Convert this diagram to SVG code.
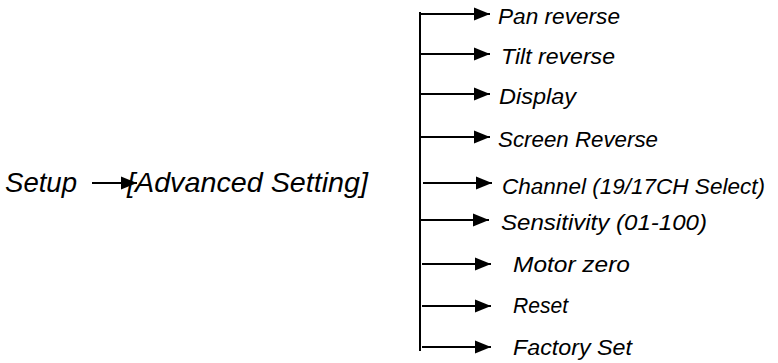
<svg xmlns="http://www.w3.org/2000/svg" width="778" height="363" viewBox="0 0 778 363">
<style>
.t{font-family:"Liberation Sans","Noto Sans",sans-serif;font-style:italic;fill:#000}
.big{font-size:28px}
.sm{font-size:22px}
.ln{stroke:#000;stroke-width:2;fill:none}
</style>
<defs>
<marker id="ah" markerUnits="userSpaceOnUse" markerWidth="17" markerHeight="14" refX="16" refY="7" orient="auto">
<path d="M0,0.5 L16,7 L0,13.5 Z" fill="#000"/>
</marker>
</defs>
<rect width="778" height="363" fill="#fff"/>
<g id="connectors">
<line class="ln" x1="92" y1="183" x2="137" y2="183" marker-end="url(#ah)"/>
<line class="ln" x1="420" y1="12" x2="420" y2="351"/>
<line class="ln" x1="420" y1="14" x2="490" y2="14" marker-end="url(#ah)"/>
<line class="ln" x1="420" y1="54" x2="490" y2="54" marker-end="url(#ah)"/>
<line class="ln" x1="420" y1="94" x2="490" y2="94" marker-end="url(#ah)"/>
<line class="ln" x1="420" y1="137" x2="490" y2="137" marker-end="url(#ah)"/>
<line class="ln" x1="423" y1="183" x2="492" y2="183" marker-end="url(#ah)"/>
<line class="ln" x1="420" y1="220" x2="489" y2="220" marker-end="url(#ah)"/>
<line class="ln" x1="422" y1="264" x2="491" y2="264" marker-end="url(#ah)"/>
<line class="ln" x1="422" y1="306" x2="491" y2="306" marker-end="url(#ah)"/>
<line class="ln" x1="422" y1="347" x2="491" y2="347" marker-end="url(#ah)"/>
</g>
<g id="setup"><text class="t big" x="5" y="192" textLength="72" lengthAdjust="spacingAndGlyphs">Setup</text></g>
<g id="advanced"><text class="t big" x="127" y="192" textLength="241" lengthAdjust="spacingAndGlyphs">[Advanced Setting]</text></g>
<g id="pan"><text class="t sm" x="498" y="24" textLength="122" lengthAdjust="spacingAndGlyphs">Pan reverse</text></g>
<g id="tilt"><text class="t sm" x="501" y="64" textLength="114" lengthAdjust="spacingAndGlyphs">Tilt reverse</text></g>
<g id="display"><text class="t sm" x="499" y="104" textLength="77" lengthAdjust="spacingAndGlyphs">Display</text></g>
<g id="screen"><text class="t sm" x="498" y="147" textLength="160" lengthAdjust="spacingAndGlyphs">Screen Reverse</text></g>
<g id="channel"><text class="t sm" x="502" y="194" textLength="263" lengthAdjust="spacingAndGlyphs">Channel (19/17CH Select)</text></g>
<g id="sensitivity"><text class="t sm" x="501" y="230" textLength="206" lengthAdjust="spacingAndGlyphs">Sensitivity (01-100)</text></g>
<g id="motor"><text class="t sm" x="513" y="272" textLength="117" lengthAdjust="spacingAndGlyphs">Motor zero</text></g>
<g id="reset"><text class="t sm" x="513" y="313" textLength="55" lengthAdjust="spacingAndGlyphs">Reset</text></g>
<g id="factory"><text class="t sm" x="513" y="355" textLength="119" lengthAdjust="spacingAndGlyphs">Factory Set</text></g>
</svg>
